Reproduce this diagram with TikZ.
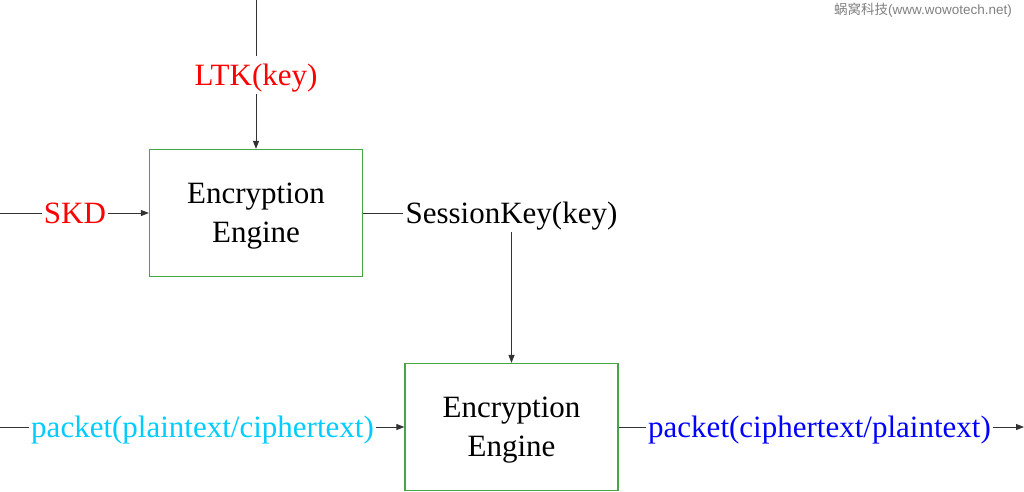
\documentclass[tikz,border=0pt]{standalone}
\usepackage{fontspec}
\usepackage{xcolor}
\usetikzlibrary{arrows.meta, positioning}
\setmainfont{Liberation Serif}
\newfontfamily\cjkfont{Noto Sans CJK SC}
\newfontfamily\wmsans{Liberation Sans}
\definecolor{keyred}{RGB}{255,0,0}
\definecolor{plaincyan}{RGB}{0,204,255}
\definecolor{cipherblue}{RGB}{0,0,255}
\definecolor{enggreen}{RGB}{70,165,70}
\definecolor{wiregray}{RGB}{50,50,50}
\newcommand{\bigfont}{\fontsize{31}{39}\selectfont}
\begin{document}
\begin{tikzpicture}[x=1pt, y=-1pt, >={Triangle[length=8pt, width=6pt]},
    engine/.style={draw=enggreen, line width=1.2pt, minimum width=213pt, minimum height=127pt, align=center, font=\bigfont, text depth=0pt},
    lbl/.style={font=\bigfont, inner sep=2pt, text height=27.5pt, text depth=7pt},
    wire/.style={draw=wiregray, line width=0.9pt}]
    \useasboundingbox (0,0) rectangle (1024,491);

    \node[engine] (enc1) at (256,213) {Encryption\\Engine};
    \node[engine] (enc2) at (511.5,427) {Encryption\\Engine};

    \node[lbl, text=keyred] (ltk) at (256,75) {LTK(key)};
    \node[lbl, text=keyred] (skd) at (75,213) {SKD};
    \node[lbl] (skey) at (511.5,213) {SessionKey(key)};
    \node[lbl, text=plaincyan, anchor=east] (pin) at (376,427) {packet(plaintext/ciphertext)};
    \node[lbl, text=cipherblue, anchor=west] (pout) at (646,427) {packet(ciphertext/plaintext)};

    \coordinate (ltkin) at (256,0);
    \coordinate (skdin) at (0,213);
    \coordinate (pinin) at (0,427);
    \coordinate (poutend) at (1024,427);

    \draw[wire] (ltkin) -- (ltk);
    \draw[wire, ->] (ltk) -- (enc1);
    \draw[wire] (skdin) -- (skd);
    \draw[wire, ->] (skd) -- (enc1);
    \draw[wire] (enc1) -- (skey);
    \draw[wire, ->] (skey) -- (enc2);
    \draw[wire] (pinin) -- (pin);
    \draw[wire, ->] (pin) -- (enc2);
    \draw[wire] (enc2) -- (pout);
    \draw[wire, ->] (pout) -- (poutend);

    \node[anchor=east, text=gray, inner sep=0pt, font=\fontsize{13.5}{15}\selectfont] (wm) at (1012,10)
        {{\cjkfont 蜗窝科技}{\wmsans (www.wowotech.net)}};
\end{tikzpicture}
\end{document}
